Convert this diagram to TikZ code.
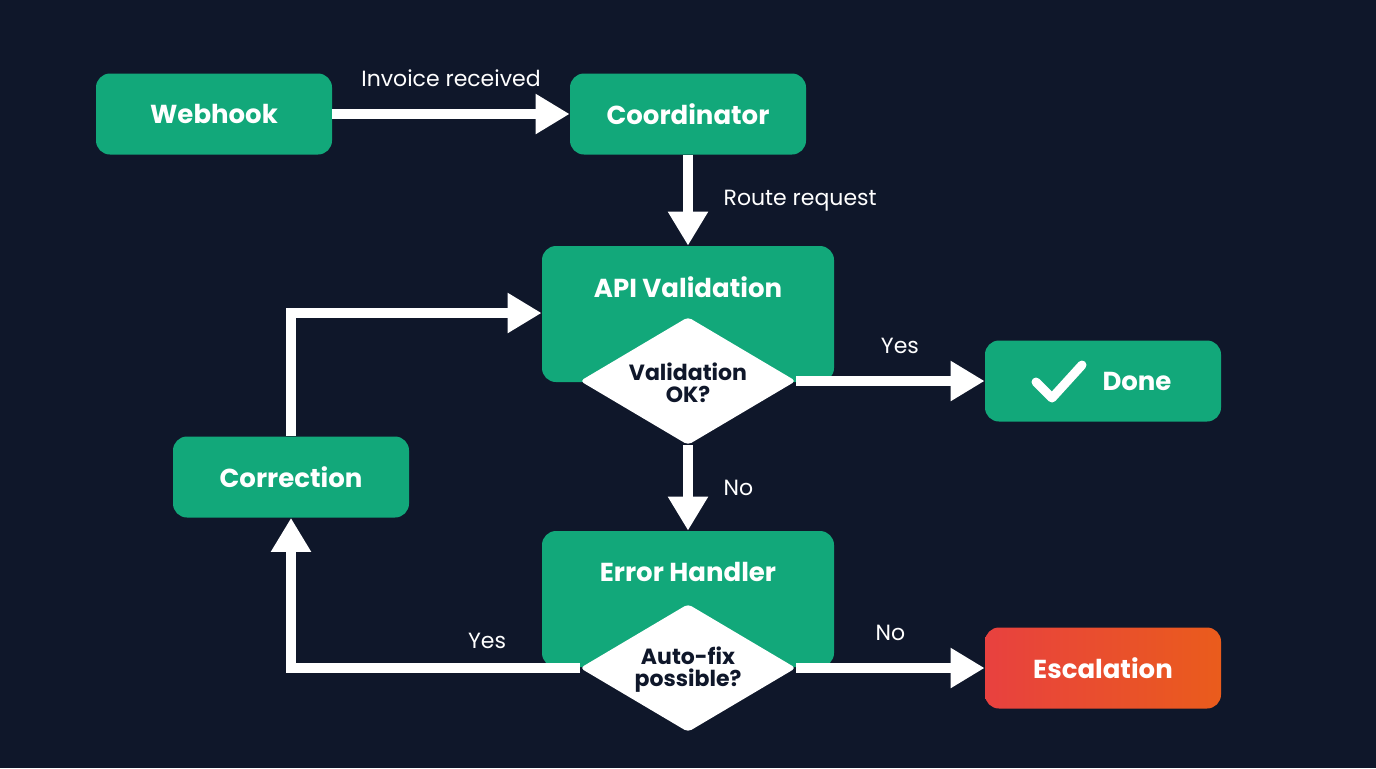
\documentclass[tikz,border=0pt]{standalone}
\usepackage{fontspec}
\setmainfont{Poppins}
\usetikzlibrary{shapes.geometric,arrows.meta}
\definecolor{bg}{HTML}{0F172A}
\definecolor{grn}{HTML}{12A87A}
\definecolor{esc1}{HTML}{E8413F}
\definecolor{esc2}{HTML}{EA5C1C}
\tikzset{
  box/.style={fill=grn,rounded corners=7pt,text=white,font=\bfseries\fontsize{13}{15}\selectfont,minimum width=118pt,minimum height=40.5pt,inner sep=0},
  big/.style={fill=grn,rounded corners=7pt,minimum width=146pt,minimum height=68pt,inner sep=0},
  dia/.style={diamond,fill=white,minimum width=108pt,minimum height=64pt,inner sep=0,rounded corners=2pt},
  dtxt/.style={text=bg,font=\bfseries\fontsize{11}{13}\selectfont,align=center},
  arr/.style={draw=white,line width=5pt,-{Triangle[length=17pt,width=19pt]}},
  lbl/.style={text=white,font=\fontsize{11}{13}\selectfont}
}
\begin{document}
\begin{tikzpicture}[x=0.5pt,y=-0.5pt]
\fill[bg] (0,0) rectangle (1376,768);
\useasboundingbox (0,0) rectangle (1376,768);
\node[box] (web) at (214,114) {Webhook};
\node[box] (coord) at (688,114) {Coordinator};
\node[big] (api) at (688,314) {};
\node[text=white,font=\bfseries\fontsize{13}{15}\selectfont] (apit) at (688,287) {API Validation};
\node[big] (err) at (688,599) {};
\node[text=white,font=\bfseries\fontsize{13}{15}\selectfont] (errt) at (688,572) {Error Handler};
\node[box] (done) at (1103,381) {\hspace*{34pt}Done};
\node[box] (corr) at (291,477) {Correction};
\node[box,fill=none,left color=esc1,right color=esc2] (esc) at (1103,668) {Escalation};
\node[dia] (d1) at (688,381) {};
\node[dtxt] at (688,383) {Validation\\[-2pt]OK?};
\node[dia] (d2) at (688,668) {};
\node[dtxt] at (688,670) {Auto-fix\\[-2pt]possible?};
\draw[white,line width=4.5pt,line cap=round,line join=round] (1036,382) -- (1052,398) -- (1082,365);
\coordinate (c1) at (291,668);
\coordinate (c2) at (291,313);
\draw[arr] (web.east) -- (coord.west) node[lbl,midway,above=8pt] {Invoice received};
\draw[arr] (coord.south) -- (api.north) node[lbl,midway,right=12pt] {Route request};
\draw[arr] (d1.east) -- (done.west) node[lbl,pos=0.55,above=8pt] {Yes};
\draw[arr] (d1.south) -- (err.north) node[lbl,midway,right=12pt] {No};
\draw[arr] (d2.east) -- (esc.west) node[lbl,pos=0.5,above=8pt] {No};
\draw[arr] (d2.west) -- (c1) -- (corr.south);
\node[lbl] at (487,641) {Yes};
\draw[arr] (corr.north) -- (c2) -- (api.west |- c2);
\end{tikzpicture}
\end{document}
